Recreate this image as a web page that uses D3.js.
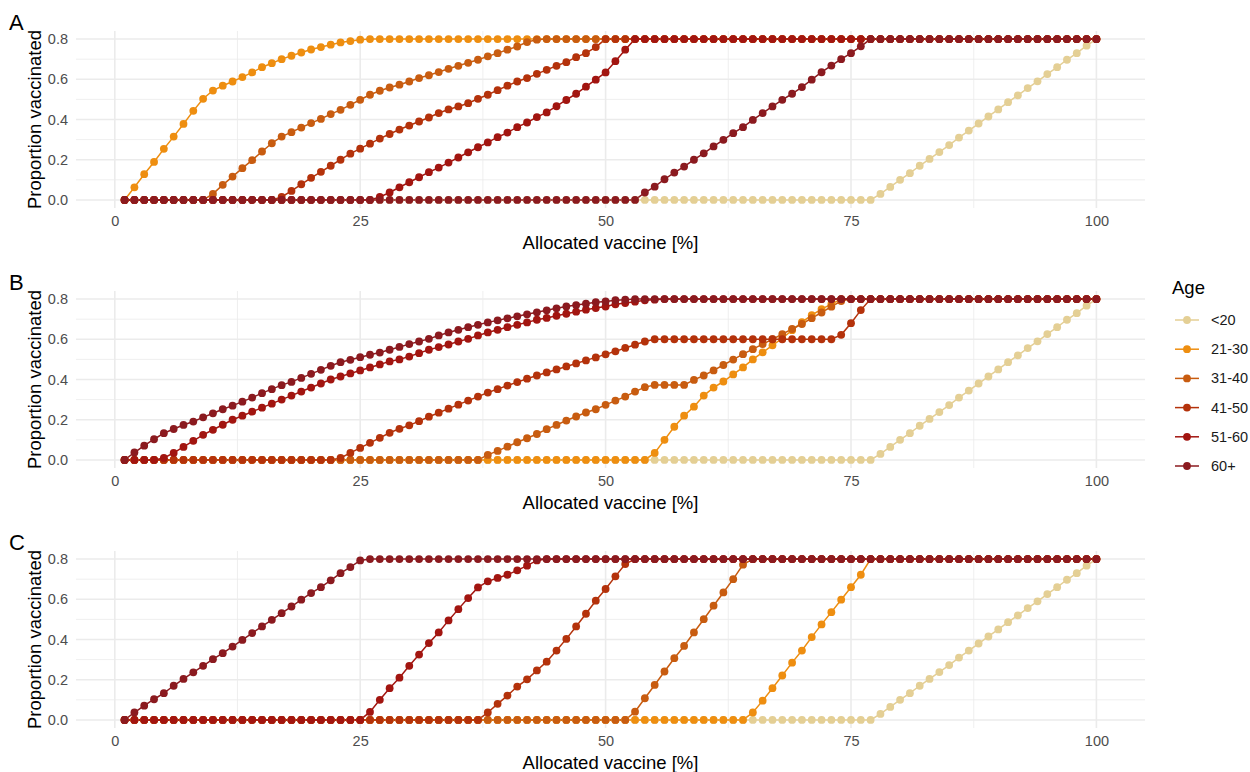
<!DOCTYPE html>
<html>
<head>
<meta charset="utf-8">
<script src="https://cdn.jsdelivr.net/npm/d3@7"></script>
<style>
  html, body { margin: 0; padding: 0; background: #ffffff; }
  svg { display: block; font-family: "Liberation Sans", Arial, Helvetica, sans-serif; }
</style>
</head>
<body>
<svg id="chart" width="1250" height="772"></svg>
<script>
// Allocated vaccine share (x = 1..100 %) and the resulting proportion vaccinated per age group.
const allocated = d3.range(1, 101);

const ageGroups = ["<20", "21-30", "31-40", "41-50", "51-60", "60+"];
const ageColors = ["#E4CF95", "#EE8E10", "#C85C10", "#B4320B", "#A21510", "#8B1A1F"];

const xTicks = [0, 25, 50, 75, 100];
const xMinor = [12.5, 37.5, 62.5, 87.5];
const yTicks = [0, 0.2, 0.4, 0.6, 0.8];
const yMinor = [0.1, 0.3, 0.5, 0.7];

const panelTags = ["A", "B", "C"];
const xTitle = "Allocated vaccine [%]";
const yTitle = "Proportion vaccinated";
const legendTitle = "Age";

// youngest group: identical in all three strategies
const under20 = [
  0,0,0,0,0,0,0,0,0,0,0,0,0,0,0,0,0,0,0,0,0,0,0,0,0,
  0,0,0,0,0,0,0,0,0,0,0,0,0,0,0,0,0,0,0,0,0,0,0,0,0,
  0,0,0,0,0,0,0,0,0,0,0,0,0,0,0,0,0,0,0,0,0,0,0,0,0,
  0,0,.03,.065,.1,.133,.17,.204,.238,.273,.31,.345,.38,.415,.45,.486,.52,.556,.59,.626,.66,.697,.73,.767,.8
];

// Strategy A
const a21_30 = [
  0,.063,.128,.189,.254,.315,.378,.443,.503,.544,.568,.589,.611,.634,.66,.68,.7,.717,.733,.748,.76,.772,.783,.79,.797,
  .8,.8,.8,.8,.8,.8,.8,.8,.8,.8,.8,.8,.8,.8,.8,.8,.8,.8,.8,.8,.8,.8,.8,.8,.8,
  .8,.8,.8,.8,.8,.8,.8,.8,.8,.8,.8,.8,.8,.8,.8,.8,.8,.8,.8,.8,.8,.8,.8,.8,.8,
  .8,.8,.8,.8,.8,.8,.8,.8,.8,.8,.8,.8,.8,.8,.8,.8,.8,.8,.8,.8,.8,.8,.8,.8,.8
];
const a31_40 = [
  0,0,0,0,0,0,0,0,0,.03,.075,.116,.158,.198,.241,.282,.315,.337,.36,.382,.403,.427,.448,.473,.498,
  .523,.543,.559,.573,.589,.606,.62,.636,.652,.667,.682,.697,.714,.73,.747,.763,.785,.797,.8,.8,.8,.8,.8,.8,.8,
  .8,.8,.8,.8,.8,.8,.8,.8,.8,.8,.8,.8,.8,.8,.8,.8,.8,.8,.8,.8,.8,.8,.8,.8,.8,
  .8,.8,.8,.8,.8,.8,.8,.8,.8,.8,.8,.8,.8,.8,.8,.8,.8,.8,.8,.8,.8,.8,.8,.8,.8
];
const a41_50 = [
  0,0,0,0,0,0,0,0,0,0,0,0,0,0,0,0,.015,.045,.078,.11,.14,.17,.2,.23,.255,
  .28,.305,.328,.35,.37,.39,.41,.432,.45,.465,.481,.503,.523,.546,.568,.589,.606,.627,.647,.667,.685,.71,.73,.76,.8,
  .8,.8,.8,.8,.8,.8,.8,.8,.8,.8,.8,.8,.8,.8,.8,.8,.8,.8,.8,.8,.8,.8,.8,.8,.8,
  .8,.8,.8,.8,.8,.8,.8,.8,.8,.8,.8,.8,.8,.8,.8,.8,.8,.8,.8,.8,.8,.8,.8,.8,.8
];
const a51_60 = [
  0,0,0,0,0,0,0,0,0,0,0,0,0,0,0,0,0,0,0,0,0,0,0,0,0,
  0,.015,.037,.063,.088,.113,.138,.161,.186,.211,.237,.262,.286,.312,.335,.362,.385,.412,.435,.466,.497,.528,.563,.598,.634,
  .69,.747,.8,.8,.8,.8,.8,.8,.8,.8,.8,.8,.8,.8,.8,.8,.8,.8,.8,.8,.8,.8,.8,.8,.8,
  .8,.8,.8,.8,.8,.8,.8,.8,.8,.8,.8,.8,.8,.8,.8,.8,.8,.8,.8,.8,.8,.8,.8,.8,.8
];
const a60plus = [
  0,0,0,0,0,0,0,0,0,0,0,0,0,0,0,0,0,0,0,0,0,0,0,0,0,
  0,0,0,0,0,0,0,0,0,0,0,0,0,0,0,0,0,0,0,0,0,0,0,0,0,
  0,0,0,.037,.066,.103,.136,.166,.2,.232,.266,.299,.332,.362,.398,.432,.465,.498,.528,.561,.598,.635,.668,.7,.73,
  .764,.8,.8,.8,.8,.8,.8,.8,.8,.8,.8,.8,.8,.8,.8,.8,.8,.8,.8,.8,.8,.8,.8,.8,.8
];

// Strategy B
const b21_30 = [
  0,0,0,0,0,0,0,0,0,0,0,0,0,0,0,0,0,0,0,0,0,0,0,0,0,
  0,0,0,0,0,0,0,0,0,0,0,0,0,0,0,0,0,0,0,0,0,0,0,0,0,
  0,0,0,0,.035,.1,.165,.22,.265,.32,.36,.39,.425,.46,.5,.535,.57,.605,.645,.685,.72,.75,.775,.8,.8,
  .8,.8,.8,.8,.8,.8,.8,.8,.8,.8,.8,.8,.8,.8,.8,.8,.8,.8,.8,.8,.8,.8,.8,.8,.8
];
const b31_40 = [
  0,0,0,0,0,0,0,0,0,0,0,0,0,0,0,0,0,0,0,0,0,0,0,0,0,
  0,0,0,0,0,0,0,0,0,0,0,0,.025,.045,.066,.088,.108,.129,.153,.174,.196,.216,.236,.252,.274,
  .295,.315,.34,.362,.373,.373,.373,.373,.398,.42,.445,.472,.499,.526,.551,.576,.6,.626,.651,.676,.705,.733,.762,.79,.8,
  .8,.8,.8,.8,.8,.8,.8,.8,.8,.8,.8,.8,.8,.8,.8,.8,.8,.8,.8,.8,.8,.8,.8,.8,.8
];
const b41_50 = [
  0,0,0,0,0,0,0,0,0,0,0,0,0,0,0,0,0,0,0,0,0,0,.01,.035,.06,
  .085,.11,.135,.155,.172,.193,.215,.235,.255,.275,.295,.315,.335,.352,.37,.387,.404,.42,.435,.45,.465,.48,.495,.51,.525,
  .54,.557,.573,.589,.6,.6,.6,.6,.6,.6,.6,.6,.6,.6,.6,.6,.6,.6,.6,.6,.6,.6,.6,.622,.68,
  .745,.8,.8,.8,.8,.8,.8,.8,.8,.8,.8,.8,.8,.8,.8,.8,.8,.8,.8,.8,.8,.8,.8,.8,.8
];
const b51_60 = [
  0,0,0,0,.01,.035,.065,.095,.125,.15,.175,.2,.22,.24,.26,.28,.3,.32,.34,.36,.38,.4,.415,.43,.445,
  .46,.475,.49,.5,.514,.531,.548,.561,.574,.589,.602,.619,.634,.647,.66,.672,.684,.697,.706,.717,.727,.737,.747,.755,.763,
  .774,.78,.787,.794,.797,.8,.8,.8,.8,.8,.8,.8,.8,.8,.8,.8,.8,.8,.8,.8,.8,.8,.8,.8,.8,
  .8,.8,.8,.8,.8,.8,.8,.8,.8,.8,.8,.8,.8,.8,.8,.8,.8,.8,.8,.8,.8,.8,.8,.8,.8
];
const b60plus = [
  0,.037,.071,.103,.133,.154,.174,.191,.212,.232,.252,.27,.29,.31,.332,.352,.372,.388,.408,.428,.448,.468,.486,.498,.511,
  .523,.534,.548,.562,.576,.589,.602,.619,.634,.647,.66,.672,.684,.694,.704,.714,.724,.734,.744,.754,.763,.77,.777,.784,.788,
  .794,.797,.8,.8,.8,.8,.8,.8,.8,.8,.8,.8,.8,.8,.8,.8,.8,.8,.8,.8,.8,.8,.8,.8,.8,
  .8,.8,.8,.8,.8,.8,.8,.8,.8,.8,.8,.8,.8,.8,.8,.8,.8,.8,.8,.8,.8,.8,.8,.8,.8
];

// Strategy C
const c21_30 = [
  0,0,0,0,0,0,0,0,0,0,0,0,0,0,0,0,0,0,0,0,0,0,0,0,0,
  0,0,0,0,0,0,0,0,0,0,0,0,0,0,0,0,0,0,0,0,0,0,0,0,0,
  0,0,0,0,0,0,0,0,0,0,0,0,0,0,.037,.096,.158,.221,.285,.345,.412,.475,.536,.598,.66,
  .722,.8,.8,.8,.8,.8,.8,.8,.8,.8,.8,.8,.8,.8,.8,.8,.8,.8,.8,.8,.8,.8,.8,.8,.8
];
const c31_40 = [
  0,0,0,0,0,0,0,0,0,0,0,0,0,0,0,0,0,0,0,0,0,0,0,0,0,
  0,0,0,0,0,0,0,0,0,0,0,0,0,0,0,0,0,0,0,0,0,0,0,0,0,
  0,0,.041,.108,.174,.241,.307,.368,.435,.501,.568,.634,.7,.772,.8,.8,.8,.8,.8,.8,.8,.8,.8,.8,.8,
  .8,.8,.8,.8,.8,.8,.8,.8,.8,.8,.8,.8,.8,.8,.8,.8,.8,.8,.8,.8,.8,.8,.8,.8,.8
];
const c41_50 = [
  0,0,0,0,0,0,0,0,0,0,0,0,0,0,0,0,0,0,0,0,0,0,0,0,0,
  0,0,0,0,0,0,0,0,0,0,0,0,.037,.08,.121,.166,.202,.246,.29,.345,.403,.465,.528,.593,.651,
  .714,.775,.8,.8,.8,.8,.8,.8,.8,.8,.8,.8,.8,.8,.8,.8,.8,.8,.8,.8,.8,.8,.8,.8,.8,
  .8,.8,.8,.8,.8,.8,.8,.8,.8,.8,.8,.8,.8,.8,.8,.8,.8,.8,.8,.8,.8,.8,.8,.8,.8
];
const c51_60 = [
  0,0,0,0,0,0,0,0,0,0,0,0,0,0,0,0,0,0,0,0,0,0,0,0,0,
  .04,.1,.158,.21,.269,.325,.382,.435,.495,.551,.606,.659,.689,.706,.722,.744,.767,.793,.8,.8,.8,.8,.8,.8,.8,
  .8,.8,.8,.8,.8,.8,.8,.8,.8,.8,.8,.8,.8,.8,.8,.8,.8,.8,.8,.8,.8,.8,.8,.8,.8,
  .8,.8,.8,.8,.8,.8,.8,.8,.8,.8,.8,.8,.8,.8,.8,.8,.8,.8,.8,.8,.8,.8,.8,.8,.8
];
const c60plus = [
  0,.037,.071,.103,.133,.17,.204,.237,.269,.302,.332,.365,.398,.432,.465,.498,.531,.564,.598,.631,.66,.694,.73,.76,.793,
  .8,.8,.8,.8,.8,.8,.8,.8,.8,.8,.8,.8,.8,.8,.8,.8,.8,.8,.8,.8,.8,.8,.8,.8,.8,
  .8,.8,.8,.8,.8,.8,.8,.8,.8,.8,.8,.8,.8,.8,.8,.8,.8,.8,.8,.8,.8,.8,.8,.8,.8,
  .8,.8,.8,.8,.8,.8,.8,.8,.8,.8,.8,.8,.8,.8,.8,.8,.8,.8,.8,.8,.8,.8,.8,.8,.8
];

const panelSeries = [
  [under20, a21_30, a31_40, a41_50, a51_60, a60plus],
  [under20, b21_30, b31_40, b41_50, b51_60, b60plus],
  [under20, c21_30, c31_40, c41_50, c51_60, c60plus]
];

// ---- layout ----
const W = 1250, H = 772;
const plotLeft = 76, plotRight = 1145;
const panelTops = [31, 291, 551];
const panelHeight = 177;

const svg = d3.select("#chart");
svg.append("rect").attr("width", W).attr("height", H).attr("fill", "#ffffff");

const x = d3.scaleLinear().domain([-3.95, 104.95]).range([plotLeft, plotRight]);

const gridColor = "#EBEBEB";
const tickColor = "#4D4D4D";
const lineWidth = 1.5;
const pointR = 3.9;

panelSeries.forEach((seriesList, pi) => {
  const top = panelTops[pi];
  const bottom = top + panelHeight;
  const y = d3.scaleLinear().domain([-0.04, 0.84]).range([bottom, top]);
  const g = svg.append("g").attr("class", "panel panel-" + panelTags[pi]);

  // minor grid
  g.append("g").selectAll("line").data(xMinor).join("line")
    .attr("x1", d => x(d)).attr("x2", d => x(d))
    .attr("y1", top).attr("y2", bottom)
    .attr("stroke", gridColor).attr("stroke-width", 0.8);
  g.append("g").selectAll("line").data(yMinor).join("line")
    .attr("x1", plotLeft).attr("x2", plotRight)
    .attr("y1", d => y(d)).attr("y2", d => y(d))
    .attr("stroke", gridColor).attr("stroke-width", 0.8);

  // major grid
  g.append("g").selectAll("line").data(xTicks).join("line")
    .attr("x1", d => x(d)).attr("x2", d => x(d))
    .attr("y1", top).attr("y2", bottom)
    .attr("stroke", gridColor).attr("stroke-width", 1.6);
  g.append("g").selectAll("line").data(yTicks).join("line")
    .attr("x1", plotLeft).attr("x2", plotRight)
    .attr("y1", d => y(d)).attr("y2", d => y(d))
    .attr("stroke", gridColor).attr("stroke-width", 1.6);

  // axes (labels only, no domain or tick marks)
  const xAxis = g.append("g")
    .attr("transform", `translate(0,${bottom + 8})`)
    .call(d3.axisBottom(x).tickValues(xTicks).tickSize(0).tickPadding(0).tickFormat(d3.format("d")));
  xAxis.select(".domain").remove();
  xAxis.selectAll("text")
    .attr("font-size", 14.5).attr("fill", tickColor)
    .attr("font-family", "Liberation Sans, Arial, sans-serif")
    .attr("dy", "0.71em");

  const yAxis = g.append("g")
    .attr("transform", `translate(${plotLeft - 8},0)`)
    .call(d3.axisLeft(y).tickValues(yTicks).tickSize(0).tickPadding(0).tickFormat(d3.format(".1f")));
  yAxis.select(".domain").remove();
  yAxis.selectAll("text")
    .attr("font-size", 14.5).attr("fill", tickColor)
    .attr("font-family", "Liberation Sans, Arial, sans-serif");

  // axis titles
  g.append("text")
    .attr("x", (plotLeft + plotRight) / 2).attr("y", bottom + 41)
    .attr("text-anchor", "middle").attr("font-size", 18.5).attr("fill", "#000")
    .text(xTitle);
  g.append("text")
    .attr("transform", `translate(${41},${(top + bottom) / 2}) rotate(-90)`)
    .attr("text-anchor", "middle").attr("font-size", 18.5).attr("fill", "#000")
    .text(yTitle);

  // panel tag
  g.append("text")
    .attr("x", 9).attr("y", top - 1)
    .attr("font-size", 22).attr("fill", "#000")
    .text(panelTags[pi]);

  // series: lines first, then points on top
  const line = d3.line().x((d, i) => x(allocated[i])).y(d => y(d));
  const lineLayer = g.append("g");
  const pointLayer = g.append("g");
  seriesList.forEach((vals, si) => {
    lineLayer.append("path")
      .datum(vals)
      .attr("d", line)
      .attr("fill", "none")
      .attr("stroke", ageColors[si])
      .attr("stroke-width", lineWidth);
  });
  seriesList.forEach((vals, si) => {
    pointLayer.append("g").selectAll("circle").data(vals).join("circle")
      .attr("cx", (d, i) => x(allocated[i]))
      .attr("cy", d => y(d))
      .attr("r", pointR)
      .attr("fill", ageColors[si]);
  });
});

// ---- legend ----
const legend = svg.append("g").attr("class", "legend");
legend.append("text")
  .attr("x", 1172).attr("y", 294)
  .attr("font-size", 18.5).attr("fill", "#000")
  .text(legendTitle);
const legendY = d3.scalePoint().domain(ageGroups).range([320, 466]);
ageGroups.forEach((grp, i) => {
  const cy = legendY(grp);
  legend.append("line")
    .attr("x1", 1175).attr("x2", 1199).attr("y1", cy).attr("y2", cy)
    .attr("stroke", ageColors[i]).attr("stroke-width", lineWidth);
  legend.append("circle")
    .attr("cx", 1187).attr("cy", cy).attr("r", pointR)
    .attr("fill", ageColors[i]);
  legend.append("text")
    .attr("x", 1211).attr("y", cy).attr("dy", "0.35em")
    .attr("font-size", 14.5).attr("fill", "#1A1A1A")
    .text(grp);
});
</script>
</body>
</html>
